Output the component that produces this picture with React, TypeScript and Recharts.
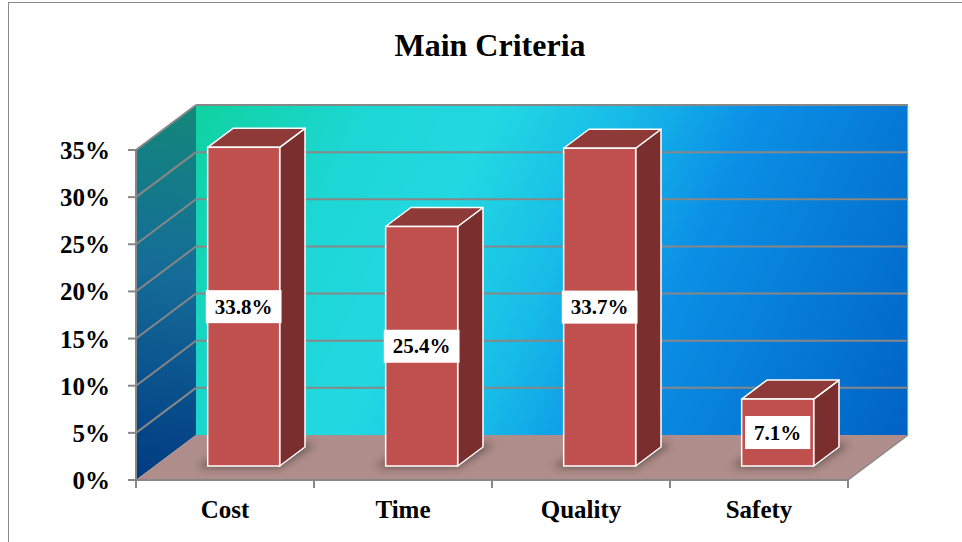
import React from 'react';
import { BarChart, Bar, XAxis, YAxis, ReferenceArea } from 'recharts';

const categories = ['Cost', 'Time', 'Quality', 'Safety'];
const values = [33.8, 25.4, 33.7, 7.1];
const yTicks = [0, 5, 10, 15, 20, 25, 30, 35];
const title = 'Main Criteria';

const data = categories.map((name, i) => ({ name, value: values[i] }));

const FONT = "'Liberation Serif', 'Times New Roman', serif";
const AXIS_GRAY = '#878787';
const DX = 60; // full depth, x
const DY = 45; // full depth, y
const BAR_OFF = 14 / 45; // bar front depth fraction
const BAR_DEPTH = 19 / 45; // bar depth fraction
const YMAX = yTicks[yTicks.length - 1];

const Walls = (props: any) => {
  const { x, y, width, height } = props;
  const x0 = x;
  const x1 = x + width;
  const yt = y;
  const yb = y + height;
  const n = categories.length;
  return (
    <g>
      <defs>
        <linearGradient id="backWall" gradientUnits="userSpaceOnUse" x1={x0 + DX} y1={yt - DY} x2={x1 + DX} y2={yb - DY}>
          <stop offset="0" stopColor="#0fd2a0" />
          <stop offset="0.2" stopColor="#1cd7d4" />
          <stop offset="0.35" stopColor="#22d8e2" />
          <stop offset="0.5" stopColor="#17bbe8" />
          <stop offset="0.65" stopColor="#0b90e6" />
          <stop offset="1" stopColor="#0062c4" />
        </linearGradient>
        <linearGradient id="leftWall" gradientUnits="userSpaceOnUse" x1={x0 + DX} y1={yt - DY} x2={x0} y2={yb}>
          <stop offset="0" stopColor="#13887a" />
          <stop offset="0.45" stopColor="#156c98" />
          <stop offset="1" stopColor="#003a82" />
        </linearGradient>
        <filter id="shadowBlur" x="-50%" y="-50%" width="200%" height="200%">
          <feGaussianBlur stdDeviation="4" />
        </filter>
      </defs>
      <polygon
        points={`${x0 + DX},${yt - DY} ${x1 + DX},${yt - DY} ${x1 + DX},${yb - DY} ${x0 + DX},${yb - DY}`}
        fill="url(#backWall)"
      />
      <polygon
        points={`${x0},${yb} ${x0},${yt} ${x0 + DX},${yt - DY} ${x0 + DX},${yb - DY}`}
        fill="url(#leftWall)"
      />
      <polygon
        points={`${x0},${yb} ${x0 + DX},${yb - DY} ${x1 + DX},${yb - DY} ${x1},${yb}`}
        fill="#ae8d8a"
      />
      <line x1={x1 + DX} y1={yt - DY} x2={x1 + DX} y2={yb - DY} stroke="#bfe6ff" strokeWidth={1} />
      <line x1={x1} y1={yb} x2={x1 + DX} y2={yb - DY} stroke={AXIS_GRAY} strokeWidth={1.5} />
      {yTicks.filter((t) => t > 0).map((t) => {
        const yy = yb - (height * t) / YMAX;
        return (
          <g key={t}>
            <line x1={x0} y1={yy} x2={x0 + DX} y2={yy - DY} stroke={AXIS_GRAY} strokeWidth={2} />
            <line x1={x0 + DX} y1={yy - DY} x2={x1 + DX} y2={yy - DY} stroke={AXIS_GRAY} strokeWidth={2} />
          </g>
        );
      })}
      {Array.from({ length: n + 1 }).map((_, i) => {
        const xi = x0 + (width * i) / n;
        return <line key={i} x1={xi} y1={yb} x2={xi} y2={yb + 8} stroke={AXIS_GRAY} strokeWidth={2} />;
      })}
    </g>
  );
};

const labelWidth = (s: string, fs: number) => {
  let w = 0;
  for (const c of s) {
    if (c === '%') w += 1.0;
    else if (c === '.') w += 0.25;
    else w += 0.5;
  }
  return w * fs;
};

const Bar3D = (props: any) => {
  const { x, y, width, height, payload } = props;
  const sx = DX * BAR_OFF;
  const sy = DY * BAR_OFF;
  const bx = DX * BAR_DEPTH;
  const by = DY * BAR_DEPTH;
  const fx = x + sx;
  const fy = y - sy;
  const fb = fy + height;
  const fr = fx + width;
  const label = `${payload.value}%`;
  const fs = 21;
  const lw = labelWidth(label, fs) + 18;
  const lh = 33;
  const cx = fx + width / 2;
  const cy = fy + height / 2;
  return (
    <g>
      <polygon
        points={`${fx - 10},${fb + 1} ${fr},${fb + 1} ${fr + bx + 10},${fb - by - 3} ${fx + bx},${fb - by - 3}`}
        fill="#000"
        opacity={0.45}
        filter="url(#shadowBlur)"
      />
      <polygon
        points={`${fr},${fy} ${fr + bx},${fy - by} ${fr + bx},${fb - by} ${fr},${fb}`}
        fill="#7a2f2e"
        stroke="#ffffff"
        strokeWidth={1.5}
        strokeLinejoin="round"
      />
      <polygon
        points={`${fx},${fy} ${fx + bx},${fy - by} ${fr + bx},${fy - by} ${fr},${fy}`}
        fill="#8e3a38"
        stroke="#ffffff"
        strokeWidth={1.5}
        strokeLinejoin="round"
      />
      <rect x={fx} y={fy} width={width} height={height} fill="#c0504d" stroke="#ffffff" strokeWidth={1.5} />
      <rect x={cx - lw / 2} y={cy - lh / 2} width={lw} height={lh} fill="#ffffff" />
      <text
        x={cx}
        y={cy + 7}
        textAnchor="middle"
        fontFamily={FONT}
        fontWeight="bold"
        fontSize={fs}
        fill="#000"
      >
        {label}
      </text>
    </g>
  );
};

const YTick = (props: any) => {
  const { x, y, payload } = props;
  return (
    <text x={x - 18} y={y + 9} textAnchor="end" fontFamily={FONT} fontWeight="bold" fontSize={25} fill="#000">
      {`${payload.value}%`}
    </text>
  );
};

const XTick = (props: any) => {
  const { x, y, payload } = props;
  return (
    <text x={x} y={y + 38} textAnchor="middle" fontFamily={FONT} fontWeight="bold" fontSize={25} fill="#000">
      {payload.value}
    </text>
  );
};

export default function App() {
  return (
    <div style={{ position: 'absolute', left: 0, top: 0, width: 962, height: 542, overflow: 'hidden', background: '#fff' }}>
      <div
        style={{
          position: 'absolute',
          left: 8,
          top: 2,
          width: 1000,
          height: 600,
          border: '1.5px solid #8a8a8a',
        }}
      />
      <div
        style={{
          position: 'absolute',
          left: 0,
          top: 29,
          width: 980,
          textAlign: 'center',
          fontFamily: FONT,
          fontWeight: 'bold',
          fontSize: 32,
          lineHeight: '32px',
          color: '#000',
        }}
      >
        {title}
      </div>
      <div style={{ position: 'absolute', left: 0, top: 0 }}>
        <BarChart width={962} height={542} data={data} margin={{ top: 150, right: 114, bottom: 22, left: 76 }} barSize={72}>
          <ReferenceArea y1={0} y2={YMAX} shape={<Walls />} ifOverflow="visible" />
          <XAxis
            dataKey="name"
            height={40}
            tickLine={false}
            tickSize={0}
            tickMargin={0}
            axisLine={{ stroke: AXIS_GRAY, strokeWidth: 2 }}
            tick={<XTick />}
            interval={0}
          />
          <YAxis
            type="number"
            width={60}
            domain={[0, YMAX]}
            ticks={yTicks}
            interval={0}
            tickSize={8}
            tickMargin={0}
            axisLine={{ stroke: AXIS_GRAY, strokeWidth: 2 }}
            tickLine={{ stroke: AXIS_GRAY, strokeWidth: 2 }}
            tick={<YTick />}
          />
          <Bar dataKey="value" isAnimationActive={false} shape={<Bar3D />} />
        </BarChart>
      </div>
    </div>
  );
}
